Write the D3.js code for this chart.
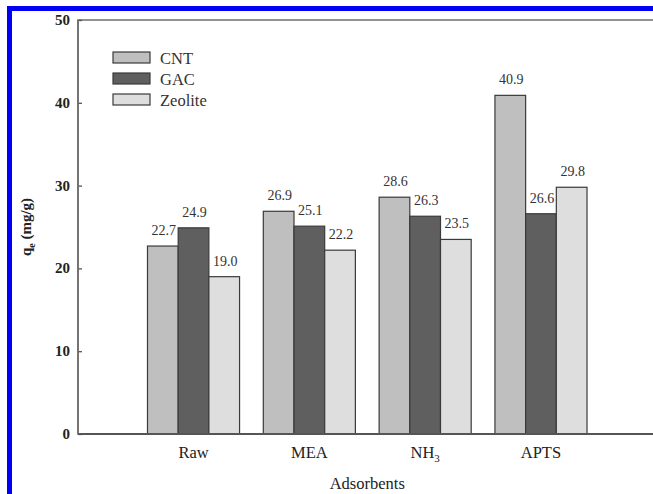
<!DOCTYPE html>
<html>
<head>
<meta charset="utf-8">
<script src="https://cdn.jsdelivr.net/npm/d3@7"></script>
<style>
  html, body { margin: 0; padding: 0; background: #fff; }
  svg { display: block; }
</style>
</head>
<body>
<svg id="chart" width="653" height="494"></svg>
<script>
// Adsorption capacity by adsorbent treatment
const categories = ["Raw", "MEA", "NH3", "APTS"];
const seriesNames = ["CNT", "GAC", "Zeolite"];
const cntValues = [22.7, 26.9, 28.6, 40.9];
const gacValues = [24.9, 25.1, 26.3, 26.6];
const zeoliteValues = [19.0, 22.2, 23.5, 29.8];
const yTicks = [0, 10, 20, 30, 40, 50];

const fills = { CNT: "#bfbfbf", GAC: "#5f5f5f", Zeolite: "#dedede" };
const seriesValues = { CNT: cntValues, GAC: gacValues, Zeolite: zeoliteValues };
const serif = "'Liberation Serif', 'Times New Roman', Times, 'DejaVu Serif', serif";

const svg = d3.select("#chart").attr("font-family", serif);

// page frame
svg.append("rect").attr("x", 7).attr("y", 6).attr("width", 5).attr("height", 494).attr("fill", "#0000f5");
svg.append("rect").attr("x", 7).attr("y", 6).attr("width", 660).attr("height", 5).attr("fill", "#0000f5");

const plotLeft = 78, plotRight = 656.5, plotTop = 20, plotBottom = 434;

const x = d3.scaleBand().domain(categories).range([plotLeft, plotRight]).paddingInner(0.205).paddingOuter(0.6);
const xs = d3.scaleBand().domain(seriesNames).range([0, x.bandwidth()]).padding(0);
const y = d3.scaleLinear().domain([0, 50]).range([plotBottom, plotTop]);

// plot box
svg.append("path")
  .attr("d", `M${plotLeft},${plotBottom} L${plotLeft},${plotTop} L${plotRight},${plotTop} L${plotRight},${plotBottom} Z`)
  .attr("fill", "none").attr("stroke", "#6e6e6e").attr("stroke-width", 1.6);

// bars
const rows = categories.map((c, i) => ({ cat: c, vals: seriesNames.map(s => ({ s, v: seriesValues[s][i] })) }));
const g = svg.append("g");
const groups = g.selectAll("g.grp").data(rows).join("g")
  .attr("transform", d => `translate(${x(d.cat)},0)`);
groups.selectAll("rect").data(d => d.vals).join("rect")
  .attr("x", d => xs(d.s))
  .attr("y", d => y(d.v))
  .attr("width", xs.bandwidth())
  .attr("height", d => y(0) - y(d.v))
  .attr("fill", d => fills[d.s])
  .attr("stroke", "#3a3a3a").attr("stroke-width", 1.2);
groups.selectAll("text").data(d => d.vals).join("text")
  .attr("x", d => xs(d.s) + xs.bandwidth() / 2 + 1)
  .attr("y", d => y(d.v) - 11)
  .attr("text-anchor", "middle")
  .attr("font-size", 14)
  .attr("fill", "#333")
  .text(d => d.v.toFixed(1));

// y axis (inward ticks)
const yAxis = d3.axisRight(y).tickValues(yTicks).tickSize(4).tickFormat("");
const ya = svg.append("g").attr("transform", `translate(${plotLeft},0)`).call(yAxis);
ya.select(".domain").remove();
ya.selectAll("line").attr("stroke", "#555").attr("stroke-width", 1.3);
svg.append("g").selectAll("text").data(yTicks).join("text")
  .attr("x", 70).attr("y", d => y(d) + 5)
  .attr("text-anchor", "end")
  .attr("font-size", 15).attr("font-weight", "bold").attr("fill", "#222")
  .text(d => d);

// axis lines drawn on top of bars
svg.append("line").attr("x1", plotLeft).attr("x2", plotRight).attr("y1", plotBottom).attr("y2", plotBottom)
  .attr("stroke", "#555").attr("stroke-width", 1.8);
svg.append("line").attr("x1", plotLeft).attr("x2", plotLeft).attr("y1", plotTop).attr("y2", plotBottom)
  .attr("stroke", "#6e6e6e").attr("stroke-width", 1.6);

// category labels
const catLabels = svg.append("g").selectAll("text").data(categories).join("text")
  .attr("x", d => x(d) + x.bandwidth() / 2)
  .attr("y", 458)
  .attr("text-anchor", "middle")
  .attr("font-size", 16.5).attr("fill", "#222");
catLabels.each(function(d) {
  const t = d3.select(this);
  if (d === "NH3") {
    t.append("tspan").text("NH");
    t.append("tspan").attr("font-size", 11).attr("dy", 4).text("3");
  } else {
    t.text(d);
  }
});

// axis titles
svg.append("text").attr("x", (plotLeft + plotRight) / 2).attr("y", 489)
  .attr("text-anchor", "middle").attr("font-size", 16.5).attr("fill", "#222").text("Adsorbents");
const yt = svg.append("text")
  .attr("transform", `translate(31,${(plotTop + plotBottom) / 2}) rotate(-90)`)
  .attr("text-anchor", "middle").attr("font-size", 15).attr("font-weight", "bold").attr("fill", "#222");
yt.append("tspan").text("q");
yt.append("tspan").attr("font-size", 10).attr("dy", 4).text("e");
yt.append("tspan").attr("dy", -4).text(" (mg/g)");

// legend
const legend = svg.append("g").selectAll("g").data(seriesNames).join("g")
  .attr("transform", (d, i) => `translate(113,${52 + i * 21})`);
legend.append("rect").attr("width", 37).attr("height", 11)
  .attr("fill", d => fills[d]).attr("stroke", "#3a3a3a").attr("stroke-width", 1.2);
legend.append("text").attr("x", 47).attr("y", 11.5)
  .attr("font-size", 16.5).attr("fill", "#333").text(d => d);
</script>
</body>
</html>
